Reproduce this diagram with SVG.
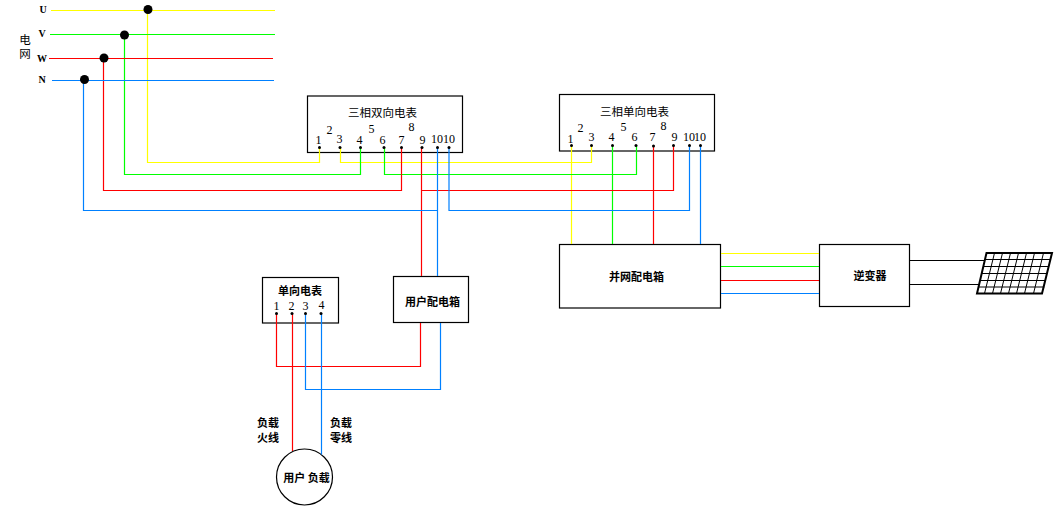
<svg xmlns="http://www.w3.org/2000/svg" width="1063" height="511" viewBox="0 0 1063 511">
<style>
text{font-family:"Noto Sans CJK SC","Liberation Serif",sans-serif;fill:#000;text-anchor:middle}
.n{font-family:"Liberation Serif","Noto Sans CJK SC",serif;font-size:12px}
.t{font-size:11.500px}
.b{font-size:11px;font-weight:700}
.ph{font-family:"Liberation Serif",serif;font-size:10px;font-weight:700}
.box{fill:#fff;stroke:#000;stroke-width:1.2}
.w{fill:none;stroke-width:1.2}
.y{stroke:#ffff00}.g{stroke:#00ff00}.r{stroke:#ff0000}.u{stroke:#0080ff}.k{stroke:#000}
.p{fill:#000}
</style>
<rect width="1063" height="511" fill="#fff"/>
<g id="meter3b"><rect class="box" x="307.5" y="96" width="155" height="56.5"/>
<text class="t" x="382.500" y="117">三相双向电表</text>
<text class="n" x="318.500" y="144">1</text><text class="n" x="329.500" y="134">2</text><text class="n" x="339.500" y="143">3</text><text class="n" x="359.500" y="144">4</text><text class="n" x="371.500" y="133">5</text><text class="n" x="382.500" y="144">6</text><text class="n" x="401.500" y="144">7</text><text class="n" x="411.500" y="131">8</text><text class="n" x="422.500" y="144">9</text><text class="n" x="437" y="143">10</text><text class="n" x="449" y="143">10</text></g>
<g id="meter3s"><rect class="box" x="559.5" y="94.500" width="155" height="56.500"/>
<text class="t" x="634.500" y="116">三相单向电表</text>
<text class="n" x="570.500" y="143">1</text><text class="n" x="580.500" y="132">2</text><text class="n" x="591.500" y="141">3</text><text class="n" x="611.500" y="141">4</text><text class="n" x="623.500" y="131">5</text><text class="n" x="634.500" y="141">6</text><text class="n" x="652.500" y="141">7</text><text class="n" x="663.500" y="130">8</text><text class="n" x="674.500" y="141">9</text><text class="n" x="689" y="141">10</text><text class="n" x="700" y="141">10</text></g>
<g id="meter1"><rect class="box" x="262.5" y="277.500" width="76" height="45.500"/>
<text class="b" x="300" y="295">单向电表</text>
<text class="n" x="276.500" y="310">1</text><text class="n" x="291.500" y="310">2</text><text class="n" x="305.500" y="310">3</text><text class="n" x="321.500" y="309">4</text></g>
<g id="userbox"><rect class="box" x="393.5" y="276.500" width="75" height="46"/><text class="b" x="432.500" y="306">用户配电箱</text></g>
<g id="gridbox"><rect class="box" x="559.5" y="244.500" width="161" height="63.500"/><text class="b" x="636.500" y="281">并网配电箱</text></g>
<g id="inverter"><rect class="box" x="819.5" y="244.500" width="90" height="62"/><text class="b" x="870" y="280">逆变器</text></g>
<g id="load"><circle cx="304.500" cy="477" r="28" fill="#fff" stroke="#000" stroke-width="1.200"/><text class="b" x="306.500" y="481.500">用户 负载</text></g>
<g id="panel"><path d="M986.500 253H1052L1042 293.500H977Z" fill="#fff" stroke="#000" stroke-width="2"/>
<path fill="none" stroke="#000" stroke-width="1" d="M985 259.500H1050.500M983.500 266.500H1049M981.800 273.500H1047.300M980.200 280.500H1045.700M978.800 287H1044.300M994.500 253L984.500 293.500M1002.500 253L992.500 293.500M1010.500 253L1000.500 293.500M1018.500 253L1008.500 293.500M1026.500 253L1016.500 293.500M1034.500 253L1024.500 293.500M1043.500 253L1033.500 293.500"/></g>
<g id="connectors">
<path class="w y" d="M51 10.500H275M147.500 9V162.500H319.500V147M340.500 147V162.500H591.500V145M571.500 145V244"/>
<path class="w g" d="M50 34.500H275M124.500 35V174.500H360.500V147M384.500 147V174.500H636.500V145M612.500 145V244"/>
<path class="w r" d="M49 58.500H273M103.500 58V190.500H401.500V147M421.500 147V276M421.500 190.500H673.500V145M653.500 145V244"/>
<path class="w u" d="M52 80.500H274M83.500 79V210.500H437.500M437.500 147V276M449 147V210.500H689.500V145M700.500 145V244"/>
<path class="w r" d="M276.500 313V366.500H420.500V323M292.500 313V451"/>
<path class="w u" d="M305.500 313V389.500H440.500V323M321.500 313V454.500"/>
<path class="w y" d="M721 253.500H819"/><path class="w g" d="M721 266.500H819"/><path class="w r" d="M721 280.500H819"/><path class="w u" d="M721 293.500H819"/>
<path class="w k" d="M910 260.500H985M910 284.500H979"/>
</g>
<g id="terminals">
<circle class="p" cx="319.500" cy="147.500" r="1.500"/><circle class="p" cx="340" cy="147.500" r="1.500"/><circle class="p" cx="360.500" cy="147.500" r="1.500"/><circle class="p" cx="384" cy="147.500" r="1.500"/><circle class="p" cx="401.500" cy="147.500" r="1.500"/><circle class="p" cx="422" cy="147.500" r="1.500"/><circle class="p" cx="437.500" cy="147.500" r="1.500"/><circle class="p" cx="449" cy="147.500" r="1.500"/>
<circle class="p" cx="571.500" cy="145.500" r="1.500"/><circle class="p" cx="591.500" cy="145.500" r="1.500"/><circle class="p" cx="612.500" cy="145.500" r="1.500"/><circle class="p" cx="636" cy="145.500" r="1.500"/><circle class="p" cx="653.500" cy="146" r="1.500"/><circle class="p" cx="673.500" cy="145.500" r="1.500"/><circle class="p" cx="689.500" cy="145.500" r="1.500"/><circle class="p" cx="700.500" cy="145.500" r="1.500"/>
<circle class="p" cx="276.500" cy="313.500" r="1.500"/><circle class="p" cx="292" cy="313.500" r="1.500"/><circle class="p" cx="305.500" cy="313.500" r="1.500"/><circle class="p" cx="321" cy="313.500" r="1.500"/></g>
<g id="grid-label"><text class="t" x="25" y="43.500">电</text><text class="t" x="25" y="58">网</text>
<text class="ph" x="43" y="13">U</text><text class="ph" x="42" y="37">V</text><text class="ph" x="42" y="62">W</text><text class="ph" x="42" y="83">N</text>
<circle class="p" cx="148" cy="9.500" r="4.500"/><circle class="p" cx="124.500" cy="35" r="4.500"/><circle class="p" cx="104" cy="58" r="4.500"/><circle class="p" cx="84.500" cy="79.500" r="4.500"/></g>
<g id="labels"><text class="b" x="268" y="427">负载</text><text class="b" x="268" y="442">火线</text><text class="b" x="341" y="427">负载</text><text class="b" x="341" y="442">零线</text></g>
</svg>
